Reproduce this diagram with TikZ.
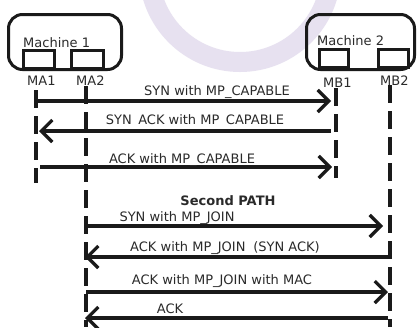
\documentclass[tikz,border=0pt]{standalone}
\usepackage{fontspec}
\setmainfont{DejaVu Sans}
\usetikzlibrary{arrows.meta}
\definecolor{ink}{HTML}{1A1A1A}
\definecolor{txt}{HTML}{2A2A2A}
\definecolor{lav}{HTML}{E7E1F0}
\tikzset{
  machine/.style={draw=ink, line width=3pt, rounded corners=14pt, inner sep=0pt, anchor=north west},
  port/.style={draw=ink, fill=white, line width=3pt, inner sep=0pt, anchor=north west},
  lbl/.style={text=txt, inner sep=0pt, anchor=base west, font=\fontsize{13}{15}\selectfont},
  msg/.style={text=txt, inner sep=0pt, anchor=base, font=\fontsize{13}{15}\selectfont},
  lifeline/.style={draw=ink, line width=3.5pt, dash pattern=on 18pt off 8pt},
  sig/.style={draw=ink, line width=3.2pt, -{Straight Barb[length=11pt,width=22pt]}},
}
\begin{document}
\begin{tikzpicture}[x=1pt,y=-1pt]
\useasboundingbox (0,0) rectangle (417,327);
\fill[white] (0,0) rectangle (417,327);
% faint background arc (centre lies above the top edge)
\begin{scope}
\clip (0,0) rectangle (417,327);
\draw[lav, line width=20pt] (240pt,29pt) circle[radius=91pt];
\end{scope}

% machines and their ports
\node[machine, minimum width=113pt, minimum height=55pt] (m1) at (7,13) {};
\node[machine, minimum width=108pt, minimum height=55pt] (m2) at (305,13) {};
\node[lbl] (m1t) at (23,47) {Machine 1};
\node[lbl] (m2t) at (317,45) {Machine 2};
\node[port, minimum width=31pt, minimum height=18pt] (pa1) at (22,49) {};
\node[port, minimum width=32pt, minimum height=18pt] (pa2) at (70,49) {};
\node[port, minimum width=29pt, minimum height=18pt] (pb1) at (318,48) {};
\node[port, minimum width=30pt, minimum height=18pt] (pb2) at (377,48) {};
\node[lbl] (ma1) at (27,85) {MA1};
\node[lbl] (ma2) at (76,85) {MA2};
\node[lbl] (mb1) at (323,87) {MB1};
\node[lbl] (mb2) at (380,85) {MB2};

% lifelines
\coordinate (a1top) at (36,90);  \coordinate (a1bot) at (36,183);
\coordinate (a2top) at (86,86);  \coordinate (a2bot) at (86,327);
\coordinate (b1top) at (336,88); \coordinate (b1bot) at (336,178);
\coordinate (b2top) at (390,85); \coordinate (b2bot) at (390,327);
\draw[lifeline] (a1top) -- (a1bot);
\draw[lifeline] (a2top) -- (a2bot);
\draw[lifeline] (b1top) -- (b1bot);
\draw[lifeline] (b2top) -- (b2bot);

% first path
\coordinate (s1a) at (36,101);  \coordinate (s1b) at (331,101);
\coordinate (s2a) at (331,131); \coordinate (s2b) at (39,131);
\coordinate (s3a) at (40,167);  \coordinate (s3b) at (332,167);
\draw[sig] (s1a) -- (s1b);
\draw[sig] (s2a) -- (s2b);
\draw[sig] (s3a) -- (s3b);
\node[msg] (t1) at (217,95) {SYN with MP\_CAPABLE};
\node[msg] (t2) at (195,124) {SYN\hspace{0.5em}ACK with MP\hspace{0.5em}CAPABLE};
\node[msg] (t3) at (182,163) {ACK with MP\_CAPABLE};

% second path
\node[msg, font=\fontsize{13}{15}\selectfont\bfseries] (sp) at (228,205) {Second PATH};
\coordinate (j1a) at (86,226);  \coordinate (j1b) at (383,226);
\coordinate (j2a) at (388,257); \coordinate (j2b) at (85,257);
\coordinate (j3a) at (86,292);  \coordinate (j3b) at (388,292);
\coordinate (j4a) at (388,318); \coordinate (j4b) at (85,318);
\draw[sig] (j1a) -- (j1b);
\draw[sig] (j2a) -- (j2b);
\draw[sig] (j3a) -- (j3b);
\draw[sig] (j4a) -- (j4b);
\node[msg] (u1) at (177,221) {SYN with MP\_JOIN};
\node[msg] (u2) at (225,251) {ACK with MP\_JOIN\hspace{0.6em}(SYN ACK)};
\node[msg] (u3) at (222,284) {ACK with MP\_JOIN with MAC};
\node[msg] (u4) at (170,313) {ACK};
\end{tikzpicture}
\end{document}
